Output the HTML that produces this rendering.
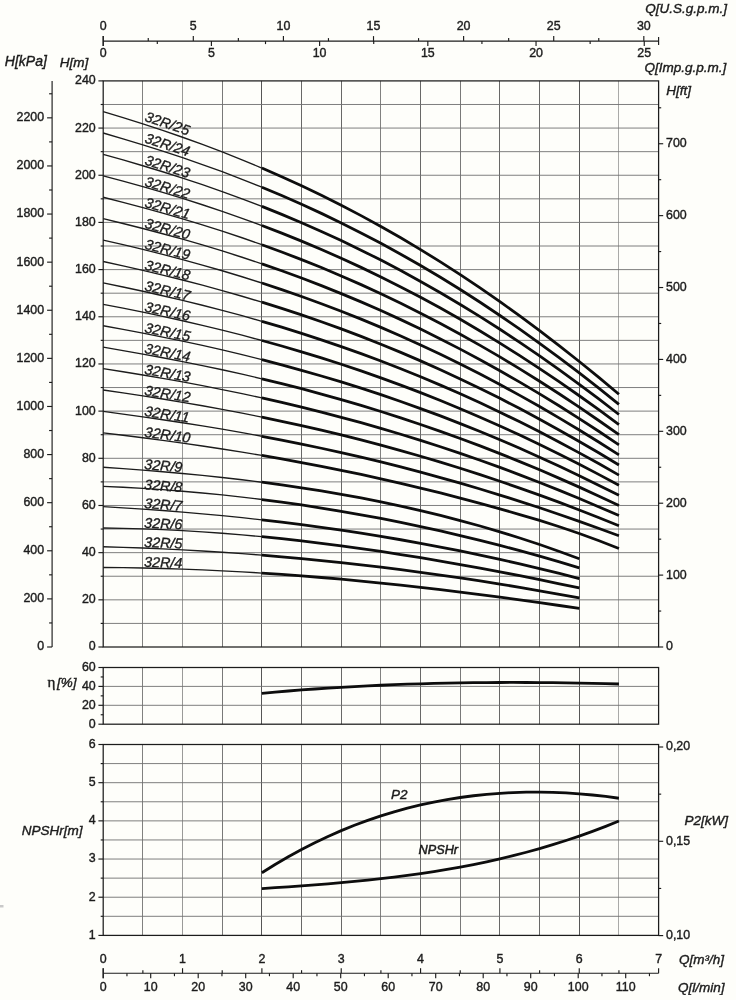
<!DOCTYPE html>
<html lang="en">
<head>
<meta charset="utf-8">
<title>32R pump performance curves</title>
<style>
html,body{margin:0;padding:0;background:#fefefa;}
body{width:736px;height:1000px;overflow:hidden;}
svg{display:block;font-family:"Liberation Sans",Arial,Helvetica,sans-serif;}
svg>g{filter:blur(0.3px);}
svg>g#grids{filter:none;}
.gv{stroke:#383838;stroke-width:0.85;fill:none;}
.gh{stroke:#707070;stroke-width:0.9;fill:none;}
.b{stroke:#1c1c1c;stroke-width:1.25;fill:none;}
.t{stroke:#1c1c1c;stroke-width:1.15;fill:none;}
.c1{stroke:#1c1c1c;stroke-width:1.35;fill:none;stroke-linejoin:round;}
.c2{stroke:#0d0d0d;stroke-width:2.8;fill:none;stroke-linejoin:round;}
.n{font-size:12.4px;fill:#1c1c1c;stroke:#1c1c1c;stroke-width:0.4;}
.l{font-size:13.5px;font-style:italic;fill:#1c1c1c;stroke:#1c1c1c;stroke-width:0.4;}
.ls{font-size:12.7px;font-style:italic;fill:#1c1c1c;stroke:#1c1c1c;stroke-width:0.5;}
.cl{font-size:14.3px;font-style:italic;fill:#1c1c1c;stroke:#1c1c1c;stroke-width:0.35;}
.eta{font-style:normal;font-family:"Liberation Serif","DejaVu Serif",serif;font-size:15px;}
</style>
</head>
<body>
<svg width="736" height="1000" viewBox="0 0 736 1000">
<rect x="0" y="0" width="736" height="1000" fill="#fefefa"/>
<g id="grids">
<line class="gv" x1="142.5" y1="80.9" x2="142.5" y2="647" opacity="0.75"/>
<line class="gv" x1="182.5" y1="80.9" x2="182.5" y2="647" opacity="0.6"/>
<line class="gv" x1="222.5" y1="80.9" x2="222.5" y2="647" opacity="0.8"/>
<line class="gv" x1="261.5" y1="80.9" x2="261.5" y2="647" opacity="1"/>
<line class="gv" x1="301.5" y1="80.9" x2="301.5" y2="647" opacity="0.9"/>
<line class="gv" x1="341.5" y1="80.9" x2="341.5" y2="647" opacity="0.9"/>
<line class="gv" x1="380.5" y1="80.9" x2="380.5" y2="647" opacity="0.75"/>
<line class="gv" x1="420.5" y1="80.9" x2="420.5" y2="647" opacity="0.9"/>
<line class="gv" x1="460.5" y1="80.9" x2="460.5" y2="647" opacity="0.8"/>
<line class="gv" x1="499.5" y1="80.9" x2="499.5" y2="647" opacity="0.9"/>
<line class="gv" x1="539.5" y1="80.9" x2="539.5" y2="647" opacity="0.9"/>
<line class="gv" x1="579.5" y1="80.9" x2="579.5" y2="647" opacity="1"/>
<line class="gv" x1="618.5" y1="80.9" x2="618.5" y2="647" opacity="0.5"/>
<line class="gh" x1="103.2" y1="623.41" x2="658.6" y2="623.41"/>
<line class="gh" x1="103.2" y1="599.83" x2="658.6" y2="599.83"/>
<line class="gh" x1="103.2" y1="576.24" x2="658.6" y2="576.24"/>
<line class="gh" x1="103.2" y1="552.65" x2="658.6" y2="552.65"/>
<line class="gh" x1="103.2" y1="529.06" x2="658.6" y2="529.06"/>
<line class="gh" x1="103.2" y1="505.48" x2="658.6" y2="505.48"/>
<line class="gh" x1="103.2" y1="481.89" x2="658.6" y2="481.89"/>
<line class="gh" x1="103.2" y1="458.3" x2="658.6" y2="458.3"/>
<line class="gh" x1="103.2" y1="434.71" x2="658.6" y2="434.71"/>
<line class="gh" x1="103.2" y1="411.12" x2="658.6" y2="411.12"/>
<line class="gh" x1="103.2" y1="387.54" x2="658.6" y2="387.54"/>
<line class="gh" x1="103.2" y1="363.95" x2="658.6" y2="363.95"/>
<line class="gh" x1="103.2" y1="340.36" x2="658.6" y2="340.36"/>
<line class="gh" x1="103.2" y1="316.77" x2="658.6" y2="316.77"/>
<line class="gh" x1="103.2" y1="293.19" x2="658.6" y2="293.19"/>
<line class="gh" x1="103.2" y1="269.6" x2="658.6" y2="269.6"/>
<line class="gh" x1="103.2" y1="246.01" x2="658.6" y2="246.01"/>
<line class="gh" x1="103.2" y1="222.42" x2="658.6" y2="222.42"/>
<line class="gh" x1="103.2" y1="198.84" x2="658.6" y2="198.84"/>
<line class="gh" x1="103.2" y1="175.25" x2="658.6" y2="175.25"/>
<line class="gh" x1="103.2" y1="151.66" x2="658.6" y2="151.66"/>
<line class="gh" x1="103.2" y1="128.07" x2="658.6" y2="128.07"/>
<line class="gh" x1="103.2" y1="104.49" x2="658.6" y2="104.49"/>
<line class="gv" x1="142.5" y1="667.5" x2="142.5" y2="724.2" opacity="0.75"/>
<line class="gv" x1="182.5" y1="667.5" x2="182.5" y2="724.2" opacity="0.6"/>
<line class="gv" x1="222.5" y1="667.5" x2="222.5" y2="724.2" opacity="0.8"/>
<line class="gv" x1="261.5" y1="667.5" x2="261.5" y2="724.2" opacity="1"/>
<line class="gv" x1="301.5" y1="667.5" x2="301.5" y2="724.2" opacity="0.9"/>
<line class="gv" x1="341.5" y1="667.5" x2="341.5" y2="724.2" opacity="0.9"/>
<line class="gv" x1="380.5" y1="667.5" x2="380.5" y2="724.2" opacity="0.75"/>
<line class="gv" x1="420.5" y1="667.5" x2="420.5" y2="724.2" opacity="0.9"/>
<line class="gv" x1="460.5" y1="667.5" x2="460.5" y2="724.2" opacity="0.8"/>
<line class="gv" x1="499.5" y1="667.5" x2="499.5" y2="724.2" opacity="0.9"/>
<line class="gv" x1="539.5" y1="667.5" x2="539.5" y2="724.2" opacity="0.9"/>
<line class="gv" x1="579.5" y1="667.5" x2="579.5" y2="724.2" opacity="1"/>
<line class="gv" x1="618.5" y1="667.5" x2="618.5" y2="724.2" opacity="0.5"/>
<line class="gh" x1="103.2" y1="705.3" x2="658.6" y2="705.3"/>
<line class="gh" x1="103.2" y1="686.4" x2="658.6" y2="686.4"/>
<line class="gv" x1="142.5" y1="744.5" x2="142.5" y2="935.4" opacity="0.75"/>
<line class="gv" x1="182.5" y1="744.5" x2="182.5" y2="935.4" opacity="0.6"/>
<line class="gv" x1="222.5" y1="744.5" x2="222.5" y2="935.4" opacity="0.8"/>
<line class="gv" x1="261.5" y1="744.5" x2="261.5" y2="935.4" opacity="1"/>
<line class="gv" x1="301.5" y1="744.5" x2="301.5" y2="935.4" opacity="0.9"/>
<line class="gv" x1="341.5" y1="744.5" x2="341.5" y2="935.4" opacity="0.9"/>
<line class="gv" x1="380.5" y1="744.5" x2="380.5" y2="935.4" opacity="0.75"/>
<line class="gv" x1="420.5" y1="744.5" x2="420.5" y2="935.4" opacity="0.9"/>
<line class="gv" x1="460.5" y1="744.5" x2="460.5" y2="935.4" opacity="0.8"/>
<line class="gv" x1="499.5" y1="744.5" x2="499.5" y2="935.4" opacity="0.9"/>
<line class="gv" x1="539.5" y1="744.5" x2="539.5" y2="935.4" opacity="0.9"/>
<line class="gv" x1="579.5" y1="744.5" x2="579.5" y2="935.4" opacity="1"/>
<line class="gv" x1="618.5" y1="744.5" x2="618.5" y2="935.4" opacity="0.5"/>
<line class="gh" x1="103.2" y1="763.59" x2="658.6" y2="763.59"/>
<line class="gh" x1="103.2" y1="782.68" x2="658.6" y2="782.68"/>
<line class="gh" x1="103.2" y1="801.77" x2="658.6" y2="801.77"/>
<line class="gh" x1="103.2" y1="820.86" x2="658.6" y2="820.86"/>
<line class="gh" x1="103.2" y1="839.95" x2="658.6" y2="839.95"/>
<line class="gh" x1="103.2" y1="859.04" x2="658.6" y2="859.04"/>
<line class="gh" x1="103.2" y1="878.13" x2="658.6" y2="878.13"/>
<line class="gh" x1="103.2" y1="897.22" x2="658.6" y2="897.22"/>
<line class="gh" x1="103.2" y1="916.31" x2="658.6" y2="916.31"/>
</g>
<g id="frames">
<rect class="b" x="103.2" y="80.9" width="555.4" height="566.1"/>
<rect class="b" x="103.2" y="667.5" width="555.4" height="56.7"/>
<rect class="b" x="103.2" y="744.5" width="555.4" height="190.9"/>
</g>
<g id="axis-hm">
<line class="t" x1="98.4" y1="647" x2="103.2" y2="647"/>
<text class="n" x="95.7" y="650.44" text-anchor="end">0</text>
<line class="t" x1="100.7" y1="623.41" x2="103.2" y2="623.41"/>
<line class="t" x1="98.4" y1="599.83" x2="103.2" y2="599.83"/>
<text class="n" x="95.7" y="603.26" text-anchor="end">20</text>
<line class="t" x1="100.7" y1="576.24" x2="103.2" y2="576.24"/>
<line class="t" x1="98.4" y1="552.65" x2="103.2" y2="552.65"/>
<text class="n" x="95.7" y="556.09" text-anchor="end">40</text>
<line class="t" x1="100.7" y1="529.06" x2="103.2" y2="529.06"/>
<line class="t" x1="98.4" y1="505.48" x2="103.2" y2="505.48"/>
<text class="n" x="95.7" y="508.91" text-anchor="end">60</text>
<line class="t" x1="100.7" y1="481.89" x2="103.2" y2="481.89"/>
<line class="t" x1="98.4" y1="458.3" x2="103.2" y2="458.3"/>
<text class="n" x="95.7" y="461.74" text-anchor="end">80</text>
<line class="t" x1="100.7" y1="434.71" x2="103.2" y2="434.71"/>
<line class="t" x1="98.4" y1="411.12" x2="103.2" y2="411.12"/>
<text class="n" x="95.7" y="414.56" text-anchor="end">100</text>
<line class="t" x1="100.7" y1="387.54" x2="103.2" y2="387.54"/>
<line class="t" x1="98.4" y1="363.95" x2="103.2" y2="363.95"/>
<text class="n" x="95.7" y="367.39" text-anchor="end">120</text>
<line class="t" x1="100.7" y1="340.36" x2="103.2" y2="340.36"/>
<line class="t" x1="98.4" y1="316.77" x2="103.2" y2="316.77"/>
<text class="n" x="95.7" y="320.21" text-anchor="end">140</text>
<line class="t" x1="100.7" y1="293.19" x2="103.2" y2="293.19"/>
<line class="t" x1="98.4" y1="269.6" x2="103.2" y2="269.6"/>
<text class="n" x="95.7" y="273.04" text-anchor="end">160</text>
<line class="t" x1="100.7" y1="246.01" x2="103.2" y2="246.01"/>
<line class="t" x1="98.4" y1="222.42" x2="103.2" y2="222.42"/>
<text class="n" x="95.7" y="225.86" text-anchor="end">180</text>
<line class="t" x1="100.7" y1="198.84" x2="103.2" y2="198.84"/>
<line class="t" x1="98.4" y1="175.25" x2="103.2" y2="175.25"/>
<text class="n" x="95.7" y="178.69" text-anchor="end">200</text>
<line class="t" x1="100.7" y1="151.66" x2="103.2" y2="151.66"/>
<line class="t" x1="98.4" y1="128.07" x2="103.2" y2="128.07"/>
<text class="n" x="95.7" y="131.51" text-anchor="end">220</text>
<line class="t" x1="100.7" y1="104.49" x2="103.2" y2="104.49"/>
<line class="t" x1="98.4" y1="80.9" x2="103.2" y2="80.9"/>
<text class="n" x="95.7" y="84.34" text-anchor="end">240</text>
<text class="l" x="59.8" y="67">H[m]</text>
</g>
<g id="axis-kpa">
<line class="t" x1="52.1" y1="80.9" x2="52.1" y2="647"/>
<line class="t" x1="47.1" y1="647" x2="52.1" y2="647"/>
<text class="n" x="44.1" y="650.44" text-anchor="end">0</text>
<line class="t" x1="49.1" y1="622.95" x2="52.1" y2="622.95"/>
<line class="t" x1="47.1" y1="598.89" x2="52.1" y2="598.89"/>
<text class="n" x="44.1" y="602.33" text-anchor="end">200</text>
<line class="t" x1="49.1" y1="574.84" x2="52.1" y2="574.84"/>
<line class="t" x1="47.1" y1="550.79" x2="52.1" y2="550.79"/>
<text class="n" x="44.1" y="554.23" text-anchor="end">400</text>
<line class="t" x1="49.1" y1="526.74" x2="52.1" y2="526.74"/>
<line class="t" x1="47.1" y1="502.68" x2="52.1" y2="502.68"/>
<text class="n" x="44.1" y="506.12" text-anchor="end">600</text>
<line class="t" x1="49.1" y1="478.63" x2="52.1" y2="478.63"/>
<line class="t" x1="47.1" y1="454.58" x2="52.1" y2="454.58"/>
<text class="n" x="44.1" y="458.02" text-anchor="end">800</text>
<line class="t" x1="49.1" y1="430.53" x2="52.1" y2="430.53"/>
<line class="t" x1="47.1" y1="406.47" x2="52.1" y2="406.47"/>
<text class="n" x="44.1" y="409.91" text-anchor="end">1000</text>
<line class="t" x1="49.1" y1="382.42" x2="52.1" y2="382.42"/>
<line class="t" x1="47.1" y1="358.37" x2="52.1" y2="358.37"/>
<text class="n" x="44.1" y="361.81" text-anchor="end">1200</text>
<line class="t" x1="49.1" y1="334.32" x2="52.1" y2="334.32"/>
<line class="t" x1="47.1" y1="310.26" x2="52.1" y2="310.26"/>
<text class="n" x="44.1" y="313.7" text-anchor="end">1400</text>
<line class="t" x1="49.1" y1="286.21" x2="52.1" y2="286.21"/>
<line class="t" x1="47.1" y1="262.16" x2="52.1" y2="262.16"/>
<text class="n" x="44.1" y="265.6" text-anchor="end">1600</text>
<line class="t" x1="49.1" y1="238.11" x2="52.1" y2="238.11"/>
<line class="t" x1="47.1" y1="214.05" x2="52.1" y2="214.05"/>
<text class="n" x="44.1" y="217.49" text-anchor="end">1800</text>
<line class="t" x1="49.1" y1="190" x2="52.1" y2="190"/>
<line class="t" x1="47.1" y1="165.95" x2="52.1" y2="165.95"/>
<text class="n" x="44.1" y="169.39" text-anchor="end">2000</text>
<line class="t" x1="49.1" y1="141.9" x2="52.1" y2="141.9"/>
<line class="t" x1="47.1" y1="117.84" x2="52.1" y2="117.84"/>
<text class="n" x="44.1" y="121.28" text-anchor="end">2200</text>
<line class="t" x1="49.1" y1="93.79" x2="52.1" y2="93.79"/>
<text class="l" x="4.8" y="66" style="font-size:14px">H[kPa]</text>
</g>
<g id="axis-ft">
<line class="t" x1="658.6" y1="647" x2="663.2" y2="647"/>
<text class="n" x="666" y="650.44">0</text>
<line class="t" x1="658.6" y1="611.05" x2="661.2" y2="611.05"/>
<line class="t" x1="658.6" y1="575.11" x2="663.2" y2="575.11"/>
<text class="n" x="666" y="578.54">100</text>
<line class="t" x1="658.6" y1="539.16" x2="661.2" y2="539.16"/>
<line class="t" x1="658.6" y1="503.21" x2="663.2" y2="503.21"/>
<text class="n" x="666" y="506.65">200</text>
<line class="t" x1="658.6" y1="467.26" x2="661.2" y2="467.26"/>
<line class="t" x1="658.6" y1="431.32" x2="663.2" y2="431.32"/>
<text class="n" x="666" y="434.76">300</text>
<line class="t" x1="658.6" y1="395.37" x2="661.2" y2="395.37"/>
<line class="t" x1="658.6" y1="359.42" x2="663.2" y2="359.42"/>
<text class="n" x="666" y="362.86">400</text>
<line class="t" x1="658.6" y1="323.47" x2="661.2" y2="323.47"/>
<line class="t" x1="658.6" y1="287.53" x2="663.2" y2="287.53"/>
<text class="n" x="666" y="290.97">500</text>
<line class="t" x1="658.6" y1="251.58" x2="661.2" y2="251.58"/>
<line class="t" x1="658.6" y1="215.63" x2="663.2" y2="215.63"/>
<text class="n" x="666" y="219.07">600</text>
<line class="t" x1="658.6" y1="179.68" x2="661.2" y2="179.68"/>
<line class="t" x1="658.6" y1="143.74" x2="663.2" y2="143.74"/>
<text class="n" x="666" y="147.18">700</text>
<line class="t" x1="658.6" y1="107.79" x2="661.2" y2="107.79"/>
<text class="l" x="666.2" y="94.6">H[ft]</text>
</g>
<g id="axis-top">
<line class="t" x1="103.2" y1="41.1" x2="658.6" y2="41.1"/>
<line class="t" x1="103.2" y1="36.1" x2="103.2" y2="46.1"/>
<line class="t" x1="658.6" y1="37.1" x2="658.6" y2="45.1"/>
<line class="t" x1="103.2" y1="36.1" x2="103.2" y2="41.1"/>
<text class="n" x="103.2" y="30.1" text-anchor="middle">0</text>
<line class="t" x1="148.25" y1="38.1" x2="148.25" y2="41.1"/>
<line class="t" x1="193.3" y1="36.1" x2="193.3" y2="41.1"/>
<text class="n" x="193.3" y="30.1" text-anchor="middle">5</text>
<line class="t" x1="238.36" y1="38.1" x2="238.36" y2="41.1"/>
<line class="t" x1="283.41" y1="36.1" x2="283.41" y2="41.1"/>
<text class="n" x="283.41" y="30.1" text-anchor="middle">10</text>
<line class="t" x1="328.46" y1="38.1" x2="328.46" y2="41.1"/>
<line class="t" x1="373.51" y1="36.1" x2="373.51" y2="41.1"/>
<text class="n" x="373.51" y="30.1" text-anchor="middle">15</text>
<line class="t" x1="418.56" y1="38.1" x2="418.56" y2="41.1"/>
<line class="t" x1="463.61" y1="36.1" x2="463.61" y2="41.1"/>
<text class="n" x="463.61" y="30.1" text-anchor="middle">20</text>
<line class="t" x1="508.67" y1="38.1" x2="508.67" y2="41.1"/>
<line class="t" x1="553.72" y1="36.1" x2="553.72" y2="41.1"/>
<text class="n" x="553.72" y="30.1" text-anchor="middle">25</text>
<line class="t" x1="598.77" y1="38.1" x2="598.77" y2="41.1"/>
<line class="t" x1="643.82" y1="36.1" x2="643.82" y2="41.1"/>
<text class="n" x="643.82" y="30.1" text-anchor="middle">30</text>
<line class="t" x1="103.2" y1="41.1" x2="103.2" y2="46.1"/>
<text class="n" x="103.2" y="57.1" text-anchor="middle">0</text>
<line class="t" x1="157.3" y1="41.1" x2="157.3" y2="44.1"/>
<line class="t" x1="211.41" y1="41.1" x2="211.41" y2="46.1"/>
<text class="n" x="211.41" y="57.1" text-anchor="middle">5</text>
<line class="t" x1="265.51" y1="41.1" x2="265.51" y2="44.1"/>
<line class="t" x1="319.62" y1="41.1" x2="319.62" y2="46.1"/>
<text class="n" x="319.62" y="57.1" text-anchor="middle">10</text>
<line class="t" x1="373.72" y1="41.1" x2="373.72" y2="44.1"/>
<line class="t" x1="427.83" y1="41.1" x2="427.83" y2="46.1"/>
<text class="n" x="427.83" y="57.1" text-anchor="middle">15</text>
<line class="t" x1="481.93" y1="41.1" x2="481.93" y2="44.1"/>
<line class="t" x1="536.04" y1="41.1" x2="536.04" y2="46.1"/>
<text class="n" x="536.04" y="57.1" text-anchor="middle">20</text>
<line class="t" x1="590.14" y1="41.1" x2="590.14" y2="44.1"/>
<line class="t" x1="644.25" y1="41.1" x2="644.25" y2="46.1"/>
<text class="n" x="644.25" y="57.1" text-anchor="middle">25</text>
<text class="l" x="645.2" y="13">Q[U.S.g.p.m.]</text>
<text class="l" x="644.4" y="72.4">Q[Imp.g.p.m.]</text>
</g>
<g id="axis-eta">
<line class="t" x1="98.4" y1="724.2" x2="103.2" y2="724.2"/>
<text class="n" x="95.7" y="727.64" text-anchor="end">0</text>
<line class="t" x1="100.7" y1="714.75" x2="103.2" y2="714.75"/>
<line class="t" x1="98.4" y1="705.3" x2="103.2" y2="705.3"/>
<text class="n" x="95.7" y="708.74" text-anchor="end">20</text>
<line class="t" x1="100.7" y1="695.85" x2="103.2" y2="695.85"/>
<line class="t" x1="98.4" y1="686.4" x2="103.2" y2="686.4"/>
<text class="n" x="95.7" y="689.84" text-anchor="end">40</text>
<line class="t" x1="100.7" y1="676.95" x2="103.2" y2="676.95"/>
<line class="t" x1="98.4" y1="667.5" x2="103.2" y2="667.5"/>
<text class="n" x="95.7" y="670.94" text-anchor="end">60</text>
<text class="l" x="47.4" y="687.2"><tspan class="eta">&#951;</tspan><tspan dx="1.8">[%]</tspan></text>
</g>
<g id="axis-npsh">
<line class="t" x1="98.4" y1="935.4" x2="103.2" y2="935.4"/>
<text class="n" x="95.7" y="938.84" text-anchor="end">1</text>
<line class="t" x1="100.7" y1="916.31" x2="103.2" y2="916.31"/>
<line class="t" x1="98.4" y1="897.22" x2="103.2" y2="897.22"/>
<text class="n" x="95.7" y="900.66" text-anchor="end">2</text>
<line class="t" x1="100.7" y1="878.13" x2="103.2" y2="878.13"/>
<line class="t" x1="98.4" y1="859.04" x2="103.2" y2="859.04"/>
<text class="n" x="95.7" y="862.48" text-anchor="end">3</text>
<line class="t" x1="100.7" y1="839.95" x2="103.2" y2="839.95"/>
<line class="t" x1="98.4" y1="820.86" x2="103.2" y2="820.86"/>
<text class="n" x="95.7" y="824.3" text-anchor="end">4</text>
<line class="t" x1="100.7" y1="801.77" x2="103.2" y2="801.77"/>
<line class="t" x1="98.4" y1="782.68" x2="103.2" y2="782.68"/>
<text class="n" x="95.7" y="786.12" text-anchor="end">5</text>
<line class="t" x1="100.7" y1="763.59" x2="103.2" y2="763.59"/>
<line class="t" x1="98.4" y1="744.5" x2="103.2" y2="744.5"/>
<text class="n" x="95.7" y="747.94" text-anchor="end">6</text>
<text class="l" x="21.8" y="835">NPSHr[m]</text>
</g>
<g id="axis-p2">
<line class="t" x1="658.6" y1="935.6" x2="663.2" y2="935.6"/>
<text class="n" x="666" y="939.04">0,10</text>
<line class="t" x1="658.6" y1="888.45" x2="661.2" y2="888.45"/>
<line class="t" x1="658.6" y1="841.3" x2="663.2" y2="841.3"/>
<text class="n" x="666" y="844.74">0,15</text>
<line class="t" x1="658.6" y1="794.15" x2="661.2" y2="794.15"/>
<line class="t" x1="658.6" y1="747" x2="663.2" y2="747"/>
<text class="n" x="666" y="750.44">0,20</text>
<text class="l" x="684.6" y="825.4">P2[kW]</text>
</g>
<g id="axis-bottom">
<line class="t" x1="103.2" y1="973.2" x2="658.6" y2="973.2"/>
<line class="t" x1="103.2" y1="968.2" x2="103.2" y2="978.2"/>
<line class="t" x1="103.2" y1="968.2" x2="103.2" y2="973.2"/>
<text class="n" x="103.2" y="962.7" text-anchor="middle">0</text>
<line class="t" x1="142.87" y1="970.2" x2="142.87" y2="973.2"/>
<line class="t" x1="182.54" y1="968.2" x2="182.54" y2="973.2"/>
<text class="n" x="182.54" y="962.7" text-anchor="middle">1</text>
<line class="t" x1="222.21" y1="970.2" x2="222.21" y2="973.2"/>
<line class="t" x1="261.89" y1="968.2" x2="261.89" y2="973.2"/>
<text class="n" x="261.89" y="962.7" text-anchor="middle">2</text>
<line class="t" x1="301.56" y1="970.2" x2="301.56" y2="973.2"/>
<line class="t" x1="341.23" y1="968.2" x2="341.23" y2="973.2"/>
<text class="n" x="341.23" y="962.7" text-anchor="middle">3</text>
<line class="t" x1="380.9" y1="970.2" x2="380.9" y2="973.2"/>
<line class="t" x1="420.57" y1="968.2" x2="420.57" y2="973.2"/>
<text class="n" x="420.57" y="962.7" text-anchor="middle">4</text>
<line class="t" x1="460.24" y1="970.2" x2="460.24" y2="973.2"/>
<line class="t" x1="499.91" y1="968.2" x2="499.91" y2="973.2"/>
<text class="n" x="499.91" y="962.7" text-anchor="middle">5</text>
<line class="t" x1="539.59" y1="970.2" x2="539.59" y2="973.2"/>
<line class="t" x1="579.26" y1="968.2" x2="579.26" y2="973.2"/>
<text class="n" x="579.26" y="962.7" text-anchor="middle">6</text>
<line class="t" x1="618.93" y1="970.2" x2="618.93" y2="973.2"/>
<line class="t" x1="658.6" y1="968.2" x2="658.6" y2="973.2"/>
<text class="n" x="658.6" y="962.7" text-anchor="middle">7</text>
<line class="t" x1="103.2" y1="973.2" x2="103.2" y2="978.2"/>
<text class="n" x="103.2" y="990.6" text-anchor="middle">0</text>
<line class="t" x1="126.95" y1="973.2" x2="126.95" y2="976.2"/>
<line class="t" x1="150.7" y1="973.2" x2="150.7" y2="978.2"/>
<text class="n" x="150.7" y="990.6" text-anchor="middle">10</text>
<line class="t" x1="174.45" y1="973.2" x2="174.45" y2="976.2"/>
<line class="t" x1="198.2" y1="973.2" x2="198.2" y2="978.2"/>
<text class="n" x="198.2" y="990.6" text-anchor="middle">20</text>
<line class="t" x1="221.95" y1="973.2" x2="221.95" y2="976.2"/>
<line class="t" x1="245.7" y1="973.2" x2="245.7" y2="978.2"/>
<text class="n" x="245.7" y="990.6" text-anchor="middle">30</text>
<line class="t" x1="269.45" y1="973.2" x2="269.45" y2="976.2"/>
<line class="t" x1="293.2" y1="973.2" x2="293.2" y2="978.2"/>
<text class="n" x="293.2" y="990.6" text-anchor="middle">40</text>
<line class="t" x1="316.95" y1="973.2" x2="316.95" y2="976.2"/>
<line class="t" x1="340.7" y1="973.2" x2="340.7" y2="978.2"/>
<text class="n" x="340.7" y="990.6" text-anchor="middle">50</text>
<line class="t" x1="364.45" y1="973.2" x2="364.45" y2="976.2"/>
<line class="t" x1="388.2" y1="973.2" x2="388.2" y2="978.2"/>
<text class="n" x="388.2" y="990.6" text-anchor="middle">60</text>
<line class="t" x1="411.95" y1="973.2" x2="411.95" y2="976.2"/>
<line class="t" x1="435.7" y1="973.2" x2="435.7" y2="978.2"/>
<text class="n" x="435.7" y="990.6" text-anchor="middle">70</text>
<line class="t" x1="459.45" y1="973.2" x2="459.45" y2="976.2"/>
<line class="t" x1="483.2" y1="973.2" x2="483.2" y2="978.2"/>
<text class="n" x="483.2" y="990.6" text-anchor="middle">80</text>
<line class="t" x1="506.95" y1="973.2" x2="506.95" y2="976.2"/>
<line class="t" x1="530.7" y1="973.2" x2="530.7" y2="978.2"/>
<text class="n" x="530.7" y="990.6" text-anchor="middle">90</text>
<line class="t" x1="554.45" y1="973.2" x2="554.45" y2="976.2"/>
<line class="t" x1="578.2" y1="973.2" x2="578.2" y2="978.2"/>
<text class="n" x="578.2" y="990.6" text-anchor="middle">100</text>
<line class="t" x1="601.95" y1="973.2" x2="601.95" y2="976.2"/>
<line class="t" x1="625.7" y1="973.2" x2="625.7" y2="978.2"/>
<text class="n" x="625.7" y="990.6" text-anchor="middle">110</text>
<line class="t" x1="649.45" y1="973.2" x2="649.45" y2="976.2"/>
<text class="l" x="679" y="964.2">Q[m&#179;/h]</text>
<text class="l" x="678" y="991.6">Q[l/min]</text>
</g>
<g id="hq-curves">
<path class="c1" d="M103.2 111.61 L123.04 117.62 L142.87 123.88 L162.71 130.42 L182.54 137.26 L202.38 144.43 L222.21 151.94 L242.05 159.81 L261.89 168.07"/>
<path class="c2" d="M261.89 168.07 L281.72 176.73 L301.56 185.8 L321.39 195.3 L341.23 205.24 L361.06 215.63 L380.9 226.48 L400.74 237.8 L420.57 249.6 L440.41 261.89 L460.24 274.65 L480.08 287.91 L499.91 301.65 L519.75 315.89 L539.59 330.61 L559.42 345.81 L579.26 361.5 L599.09 377.65 L618.93 394.28"/>
<path class="c1" d="M103.2 133.02 L123.04 138.79 L142.87 144.81 L162.71 151.09 L182.54 157.65 L202.38 164.53 L222.21 171.74 L242.05 179.3 L261.89 187.23"/>
<path class="c2" d="M261.89 187.23 L281.72 195.54 L301.56 204.24 L321.39 213.36 L341.23 222.91 L361.06 232.88 L380.9 243.3 L400.74 254.17 L420.57 265.5 L440.41 277.29 L460.24 289.55 L480.08 302.27 L499.91 315.47 L519.75 329.13 L539.59 343.27 L559.42 357.86 L579.26 372.92 L599.09 388.43 L618.93 404.38"/>
<path class="c1" d="M103.2 154.44 L123.04 159.97 L142.87 165.73 L162.71 171.75 L182.54 178.04 L202.38 184.63 L222.21 191.54 L242.05 198.79 L261.89 206.38"/>
<path class="c2" d="M261.89 206.38 L281.72 214.35 L301.56 222.69 L321.39 231.43 L341.23 240.58 L361.06 250.14 L380.9 260.12 L400.74 270.54 L420.57 281.4 L440.41 292.7 L460.24 304.44 L480.08 316.64 L499.91 329.28 L519.75 342.38 L539.59 355.92 L559.42 369.91 L579.26 384.34 L599.09 399.2 L618.93 414.49"/>
<path class="c1" d="M103.2 175.85 L123.04 181.14 L142.87 186.66 L162.71 192.41 L182.54 198.43 L202.38 204.74 L222.21 211.35 L242.05 218.28 L261.89 225.54"/>
<path class="c2" d="M261.89 225.54 L281.72 233.16 L301.56 241.14 L321.39 249.5 L341.23 258.25 L361.06 267.39 L380.9 276.94 L400.74 286.91 L420.57 297.29 L440.41 308.1 L460.24 319.34 L480.08 331 L499.91 343.1 L519.75 355.62 L539.59 368.58 L559.42 381.96 L579.26 395.76 L599.09 409.98 L618.93 424.6"/>
<path class="c1" d="M103.2 197.27 L123.04 202.32 L142.87 207.58 L162.71 213.07 L182.54 218.82 L202.38 224.84 L222.21 231.15 L242.05 237.76 L261.89 244.7"/>
<path class="c2" d="M261.89 244.7 L281.72 251.97 L301.56 259.59 L321.39 267.57 L341.23 275.92 L361.06 284.65 L380.9 293.76 L400.74 303.28 L420.57 313.19 L440.41 323.5 L460.24 334.23 L480.08 345.36 L499.91 356.91 L519.75 368.87 L539.59 381.23 L559.42 394 L579.26 407.18 L599.09 420.75 L618.93 434.71"/>
<path class="c1" d="M103.2 218.69 L123.04 223.49 L142.87 228.51 L162.71 233.74 L182.54 239.21 L202.38 244.94 L222.21 250.95 L242.05 257.25 L261.89 263.86"/>
<path class="c2" d="M261.89 263.86 L281.72 270.78 L301.56 278.04 L321.39 285.64 L341.23 293.59 L361.06 301.9 L380.9 310.58 L400.74 319.64 L420.57 329.08 L440.41 338.91 L460.24 349.12 L480.08 359.73 L499.91 370.72 L519.75 382.11 L539.59 393.89 L559.42 406.05 L579.26 418.6 L599.09 431.52 L618.93 444.82"/>
<path class="c1" d="M103.2 240.1 L123.04 244.67 L142.87 249.43 L162.71 254.4 L182.54 259.6 L202.38 265.05 L222.21 270.75 L242.05 276.74 L261.89 283.01"/>
<path class="c2" d="M261.89 283.01 L281.72 289.59 L301.56 296.49 L321.39 303.7 L341.23 311.26 L361.06 319.16 L380.9 327.41 L400.74 336.01 L420.57 344.98 L440.41 354.31 L460.24 364.02 L480.08 374.09 L499.91 384.54 L519.75 395.36 L539.59 406.54 L559.42 418.1 L579.26 430.02 L599.09 442.3 L618.93 454.93"/>
<path class="c1" d="M103.2 261.52 L123.04 265.85 L142.87 270.35 L162.71 275.06 L182.54 279.99 L202.38 285.15 L222.21 290.56 L242.05 296.23 L261.89 302.17"/>
<path class="c2" d="M261.89 302.17 L281.72 308.4 L301.56 314.93 L321.39 321.77 L341.23 328.93 L361.06 336.41 L380.9 344.23 L400.74 352.38 L420.57 360.88 L440.41 369.72 L460.24 378.91 L480.08 388.46 L499.91 398.35 L519.75 408.6 L539.59 419.2 L559.42 430.15 L579.26 441.44 L599.09 453.07 L618.93 465.04"/>
<path class="c1" d="M103.2 282.93 L123.04 287.02 L142.87 291.28 L162.71 295.73 L182.54 300.38 L202.38 305.25 L222.21 310.36 L242.05 315.71 L261.89 321.33"/>
<path class="c2" d="M261.89 321.33 L281.72 327.21 L301.56 333.38 L321.39 339.84 L341.23 346.6 L361.06 353.67 L380.9 361.05 L400.74 368.75 L420.57 376.77 L440.41 385.12 L460.24 393.8 L480.08 402.82 L499.91 412.17 L519.75 421.84 L539.59 431.85 L559.42 442.19 L579.26 452.86 L599.09 463.84 L618.93 475.15"/>
<path class="c1" d="M103.2 304.35 L123.04 308.2 L142.87 312.2 L162.71 316.39 L182.54 320.77 L202.38 325.35 L222.21 330.16 L242.05 335.2 L261.89 340.48"/>
<path class="c2" d="M261.89 340.48 L281.72 346.02 L301.56 351.83 L321.39 357.91 L341.23 364.27 L361.06 370.92 L380.9 377.87 L400.74 385.11 L420.57 392.67 L440.41 400.53 L460.24 408.7 L480.08 417.18 L499.91 425.98 L519.75 435.09 L539.59 444.51 L559.42 454.24 L579.26 464.28 L599.09 474.62 L618.93 485.26"/>
<path class="c1" d="M103.2 325.76 L123.04 329.37 L142.87 333.13 L162.71 337.05 L182.54 341.16 L202.38 345.46 L222.21 349.96 L242.05 354.69 L261.89 359.64"/>
<path class="c2" d="M261.89 359.64 L281.72 364.84 L301.56 370.28 L321.39 375.98 L341.23 381.94 L361.06 388.18 L380.9 394.69 L400.74 401.48 L420.57 408.56 L440.41 415.93 L460.24 423.59 L480.08 431.55 L499.91 439.79 L519.75 448.33 L539.59 457.17 L559.42 466.29 L579.26 475.7 L599.09 485.39 L618.93 495.37"/>
<path class="c1" d="M103.2 347.18 L123.04 350.55 L142.87 354.05 L162.71 357.72 L182.54 361.55 L202.38 365.56 L222.21 369.77 L242.05 374.18 L261.89 378.8"/>
<path class="c2" d="M261.89 378.8 L281.72 383.65 L301.56 388.73 L321.39 394.05 L341.23 399.61 L361.06 405.43 L380.9 411.51 L400.74 417.85 L420.57 424.46 L440.41 431.34 L460.24 438.49 L480.08 445.91 L499.91 453.61 L519.75 461.58 L539.59 469.82 L559.42 478.34 L579.26 487.12 L599.09 496.17 L618.93 505.47"/>
<path class="c1" d="M103.2 368.6 L123.04 371.72 L142.87 374.98 L162.71 378.38 L182.54 381.94 L202.38 385.66 L222.21 389.57 L242.05 393.66 L261.89 397.96"/>
<path class="c2" d="M261.89 397.96 L281.72 402.46 L301.56 407.17 L321.39 412.11 L341.23 417.28 L361.06 422.69 L380.9 428.33 L400.74 434.22 L420.57 440.35 L440.41 446.74 L460.24 453.38 L480.08 460.27 L499.91 467.42 L519.75 474.82 L539.59 482.48 L559.42 490.38 L579.26 498.54 L599.09 506.94 L618.93 515.58"/>
<path class="c1" d="M103.2 390.01 L123.04 392.9 L142.87 395.9 L162.71 399.04 L182.54 402.33 L202.38 405.77 L222.21 409.37 L242.05 413.15 L261.89 417.11"/>
<path class="c2" d="M261.89 417.11 L281.72 421.27 L301.56 425.62 L321.39 430.18 L341.23 434.95 L361.06 439.94 L380.9 445.15 L400.74 450.59 L420.57 456.25 L440.41 462.15 L460.24 468.27 L480.08 474.64 L499.91 481.23 L519.75 488.07 L539.59 495.13 L559.42 502.43 L579.26 509.96 L599.09 517.71 L618.93 525.69"/>
<path class="c1" d="M103.2 411.43 L123.04 414.07 L142.87 416.83 L162.71 419.71 L182.54 422.72 L202.38 425.87 L222.21 429.17 L242.05 432.64 L261.89 436.27"/>
<path class="c2" d="M261.89 436.27 L281.72 440.08 L301.56 444.07 L321.39 448.25 L341.23 452.62 L361.06 457.2 L380.9 461.97 L400.74 466.95 L420.57 472.15 L440.41 477.55 L460.24 483.17 L480.08 489 L499.91 495.05 L519.75 501.31 L539.59 507.79 L559.42 514.48 L579.26 521.38 L599.09 528.49 L618.93 535.8"/>
<path class="c1" d="M103.2 432.84 L123.04 435.25 L142.87 437.75 L162.71 440.37 L182.54 443.11 L202.38 445.97 L222.21 448.98 L242.05 452.13 L261.89 455.43"/>
<path class="c2" d="M261.89 455.43 L281.72 458.89 L301.56 462.52 L321.39 466.32 L341.23 470.29 L361.06 474.45 L380.9 478.79 L400.74 483.32 L420.57 488.04 L440.41 492.95 L460.24 498.06 L480.08 503.36 L499.91 508.86 L519.75 514.56 L539.59 520.44 L559.42 526.71 L579.26 533.51 L599.09 540.78 L618.93 548.44"/>
<path class="c1" d="M103.2 467.26 L123.04 468.61 L142.87 470.09 L162.71 471.71 L182.54 473.47 L202.38 475.38 L222.21 477.47 L242.05 479.75 L261.89 482.22"/>
<path class="c2" d="M261.89 482.22 L281.72 484.9 L301.56 487.8 L321.39 490.94 L341.23 494.33 L361.06 497.97 L380.9 501.89 L400.74 506.09 L420.57 510.59 L440.41 515.39 L460.24 520.52 L480.08 525.99 L499.91 531.8 L519.75 537.97 L539.59 544.52 L559.42 551.45 L579.26 558.78"/>
<path class="c1" d="M103.2 486.34 L123.04 487.24 L142.87 488.36 L162.71 489.69 L182.54 491.22 L202.38 492.98 L222.21 494.94 L242.05 497.12 L261.89 499.52"/>
<path class="c2" d="M261.89 499.52 L281.72 502.13 L301.56 504.96 L321.39 508.01 L341.23 511.27 L361.06 514.76 L380.9 518.47 L400.74 522.4 L420.57 526.56 L440.41 530.93 L460.24 535.54 L480.08 540.37 L499.91 545.42 L519.75 550.71 L539.59 556.22 L559.42 561.96 L579.26 567.93"/>
<path class="c1" d="M103.2 506.66 L123.04 507.81 L142.87 509.09 L162.71 510.52 L182.54 512.09 L202.38 513.81 L222.21 515.67 L242.05 517.69 L261.89 519.87"/>
<path class="c2" d="M261.89 519.87 L281.72 522.2 L301.56 524.7 L321.39 527.37 L341.23 530.2 L361.06 533.21 L380.9 536.39 L400.74 539.75 L420.57 543.29 L440.41 547.02 L460.24 550.94 L480.08 555.05 L499.91 559.36 L519.75 563.86 L539.59 568.56 L559.42 573.47 L579.26 578.59"/>
<path class="c1" d="M103.2 528.04 L123.04 528.33 L142.87 528.86 L162.71 529.62 L182.54 530.61 L202.38 531.81 L222.21 533.23 L242.05 534.86 L261.89 536.68"/>
<path class="c2" d="M261.89 536.68 L281.72 538.7 L301.56 540.91 L321.39 543.29 L341.23 545.86 L361.06 548.59 L380.9 551.48 L400.74 554.53 L420.57 557.73 L440.41 561.07 L460.24 564.55 L480.08 568.16 L499.91 571.89 L519.75 575.74 L539.59 579.71 L559.42 583.77 L579.26 587.94"/>
<path class="c1" d="M103.2 546.77 L123.04 547.33 L142.87 548.03 L162.71 548.88 L182.54 549.86 L202.38 550.98 L222.21 552.23 L242.05 553.63 L261.89 555.16"/>
<path class="c2" d="M261.89 555.16 L281.72 556.83 L301.56 558.64 L321.39 560.58 L341.23 562.65 L361.06 564.87 L380.9 567.21 L400.74 569.69 L420.57 572.31 L440.41 575.05 L460.24 577.93 L480.08 580.95 L499.91 584.09 L519.75 587.37 L539.59 590.78 L559.42 594.31 L579.26 597.98"/>
<path class="c1" d="M103.2 567.5 L123.04 567.66 L142.87 567.99 L162.71 568.47 L182.54 569.1 L202.38 569.88 L222.21 570.81 L242.05 571.88 L261.89 573.08"/>
<path class="c2" d="M261.89 573.08 L281.72 574.43 L301.56 575.9 L321.39 577.5 L341.23 579.23 L361.06 581.08 L380.9 583.05 L400.74 585.13 L420.57 587.33 L440.41 589.63 L460.24 592.03 L480.08 594.54 L499.91 597.15 L519.75 599.84 L539.59 602.63 L559.42 605.51 L579.26 608.47"/>
</g>
<g id="hq-labels">
<text class="cl" transform="translate(144 120.65) rotate(18.69)">32R/25</text>
<text class="cl" transform="translate(144 142.26) rotate(17.99)">32R/24</text>
<text class="cl" transform="translate(144 164.37) rotate(17.28)">32R/23</text>
<text class="cl" transform="translate(144 185.78) rotate(16.57)">32R/22</text>
<text class="cl" transform="translate(144 206.69) rotate(15.86)">32R/21</text>
<text class="cl" transform="translate(144 227.6) rotate(15.14)">32R/20</text>
<text class="cl" transform="translate(144 248.51) rotate(14.41)">32R/19</text>
<text class="cl" transform="translate(144 269.42) rotate(13.69)">32R/18</text>
<text class="cl" transform="translate(144 290.33) rotate(12.95)">32R/17</text>
<text class="cl" transform="translate(144 311.24) rotate(12.21)">32R/16</text>
<text class="cl" transform="translate(144 332.15) rotate(11.47)">32R/15</text>
<text class="cl" transform="translate(144 353.06) rotate(10.72)">32R/14</text>
<text class="cl" transform="translate(144 373.97) rotate(9.97)">32R/13</text>
<text class="cl" transform="translate(144 394.88) rotate(9.22)">32R/12</text>
<text class="cl" transform="translate(144 415.79) rotate(8.46)">32R/11</text>
<text class="cl" transform="translate(144 436.7) rotate(7.7)">32R/10</text>
<text class="cl" transform="translate(144 468.98) rotate(4.88)">32R/9</text>
<text class="cl" transform="translate(144 489.23) rotate(4.17)">32R/8</text>
<text class="cl" transform="translate(144 507.97) rotate(4.34)">32R/7</text>
<text class="cl" transform="translate(144 527.7) rotate(2.56)">32R/6</text>
<text class="cl" transform="translate(144 546.88) rotate(2.65)">32R/5</text>
<text class="cl" transform="translate(144 566.81) rotate(1.63)">32R/4</text>
</g>
<g id="eta-curve">
<path class="c2" d="M261.89 693.32 L275.11 692.12 L288.33 691.01 L301.56 689.97 L314.78 689 L328 688.11 L341.23 687.29 L354.45 686.54 L367.68 685.85 L380.9 685.24 L394.12 684.69 L407.35 684.2 L420.57 683.78 L433.8 683.42 L447.02 683.12 L460.24 682.88 L473.47 682.69 L486.69 682.56 L499.91 682.49 L513.14 682.46 L526.36 682.49 L539.59 682.57 L552.81 682.69 L566.03 682.87 L579.26 683.08 L592.48 683.35 L605.7 683.65 L618.93 683.99"/>
</g>
<g id="p2-npsh">
<path class="c2" d="M261.89 872.78 L275.11 864.49 L288.33 856.72 L301.56 849.46 L314.78 842.7 L328 836.43 L341.23 830.62 L354.45 825.27 L367.68 820.36 L380.9 815.89 L394.12 811.84 L407.35 808.19 L420.57 804.94 L433.8 802.09 L447.02 799.61 L460.24 797.5 L473.47 795.75 L486.69 794.35 L499.91 793.3 L513.14 792.58 L526.36 792.2 L539.59 792.14 L552.81 792.39 L566.03 792.96 L579.26 793.83 L592.48 795 L605.7 796.48 L618.93 798.24"/>
<path class="c2" d="M261.89 888.55 L275.11 887.7 L288.33 886.81 L301.56 885.88 L314.78 884.88 L328 883.82 L341.23 882.68 L354.45 881.45 L367.68 880.12 L380.9 878.68 L394.12 877.11 L407.35 875.41 L420.57 873.56 L433.8 871.56 L447.02 869.39 L460.24 867.05 L473.47 864.51 L486.69 861.77 L499.91 858.82 L513.14 855.65 L526.36 852.25 L539.59 848.6 L552.81 844.7 L566.03 840.53 L579.26 836.09 L592.48 831.36 L605.7 826.32 L618.93 820.98"/>
<text class="l" x="391" y="798.8">P2</text>
<text class="ls" x="418.6" y="854">NPSHr</text>
</g>
<g id="scan-mark"><rect x="0" y="905" width="3.5" height="2.5" fill="#c9c9c9"/></g>
</svg>
</body>
</html>
